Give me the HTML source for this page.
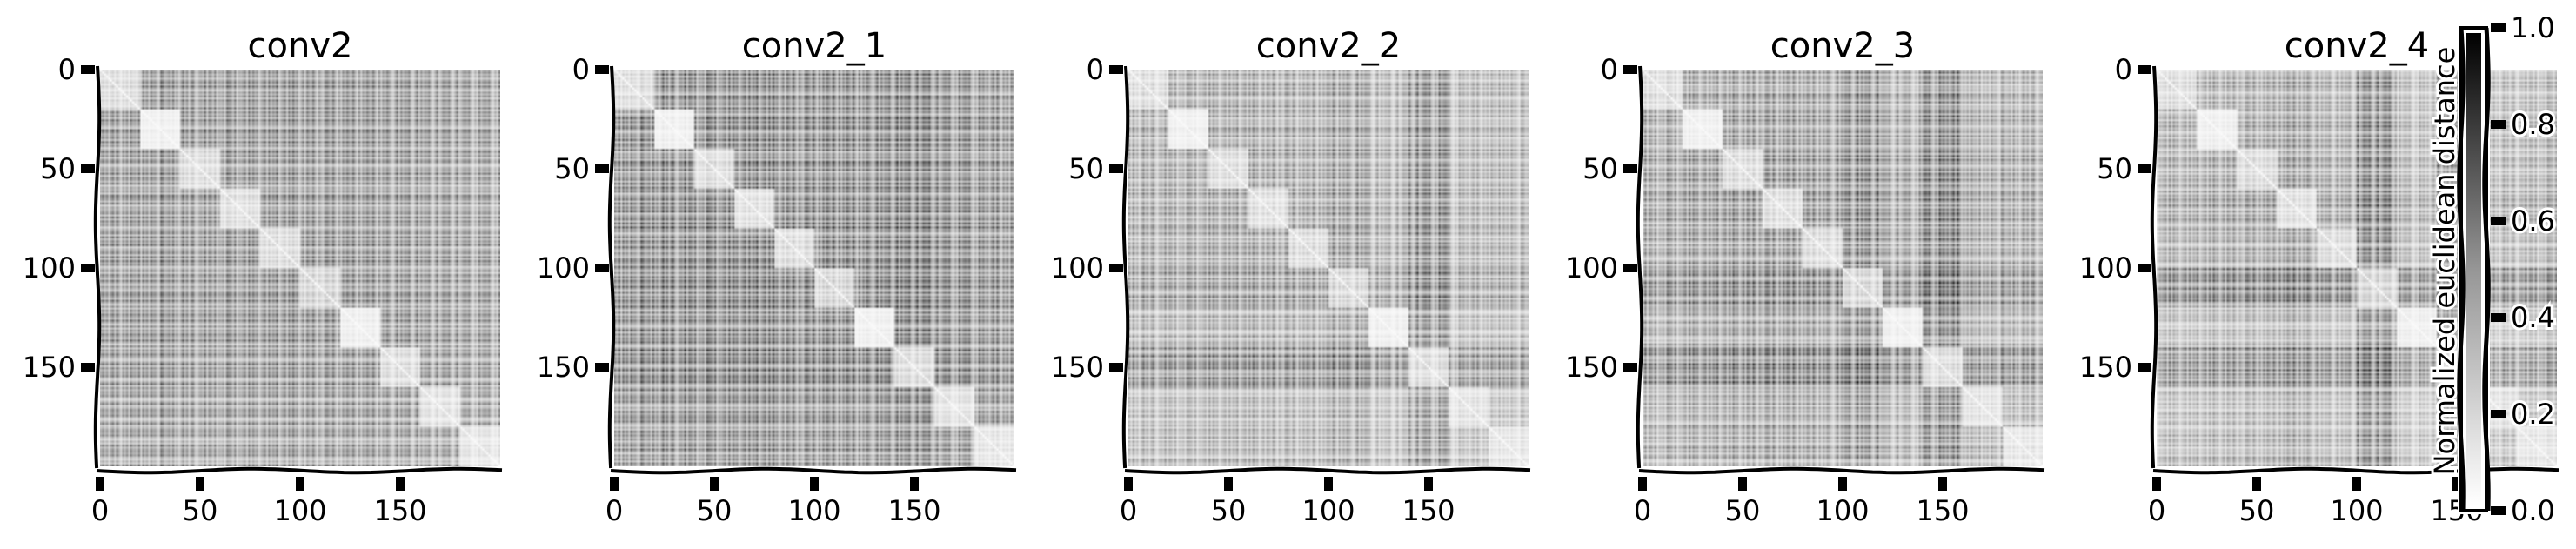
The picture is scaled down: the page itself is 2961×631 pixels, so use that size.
<!DOCTYPE html>
<html><head><meta charset="utf-8"><style>
html,body{margin:0;padding:0;background:#fff;}
#root{position:relative;width:2961px;height:631px;overflow:hidden;background:#fff;font-family:"DejaVu Sans","Liberation Sans",sans-serif;}
canvas{position:absolute;}
svg{position:absolute;left:0;top:0;}
</style></head><body>
<div id="root">
<svg id="ov" width="2961" height="631"></svg>
</div>
<script>
const panelTitles = ["conv2","conv2_1","conv2_2","conv2_3","conv2_4"];
const xTicks = [0,50,100,150];
const yTicks = [0,50,100,150];
const cbTicks = [0.0,0.2,0.4,0.6,0.8,1.0];
const cbTickLabels = ["0.0","0.2","0.4","0.6","0.8","1.0"];
const blockDark1 = [0.30,0.34,0.30,0.30,0.32,0.30,0.30,0.30,0.26,0.24];
const blockDark2 = [0.34,0.36,0.34,0.38,0.34,0.36,0.34,0.38,0.30,0.28];
const blockDark3 = [0.24,0.24,0.26,0.26,0.24,0.32,0.18,0.40,0.16,0.18];
const blockDark4 = [0.24,0.28,0.30,0.30,0.28,0.40,0.22,0.44,0.20,0.22];
const blockDark5 = [0.22,0.24,0.24,0.30,0.22,0.44,0.14,0.40,0.15,0.18];
const diagLight = [0.10,0.04,0.10,0.09,0.10,0.12,0.04,0.10,0.08,0.07];
const texture = "4736158294063718452907361845209734618250493716820453917628043519762804357192846035718264903571829460371852940631785294061738529407163852940716385204917365820491736582049137658204913675820419367582041936758";

const root=document.getElementById('root');
const ov=document.getElementById('ov');
const NS="http://www.w3.org/2000/svg";
const blocks=[blockDark1,blockDark2,blockDark3,blockDark4,blockDark5];
const W=460,H=456,TOP=80,LEFT0=115,STEP=591,N=200;
const FONT='DejaVu Sans, Liberation Sans, sans-serif';
function sx(v,L){return L+v/N*W;}
function sy(v){return TOP+v/N*H;}
function wave(x1,y1,x2,y2,horiz){
  let d="M"+x1+","+y1;const len=horiz?x2-x1:y2-y1;const n=Math.ceil(len/8);
  for(let k=1;k<=n;k++){const t=k/n;const off=2.2*Math.sin(t*len/38);
    if(horiz)d+=" L"+(x1+t*len).toFixed(1)+","+(y1+off).toFixed(1);
    else d+=" L"+(x1+off).toFixed(1)+","+(y1+t*len).toFixed(1);}
  return d;}
function mk(tag,attrs,parent){const e=document.createElementNS(NS,tag);for(const k in attrs)e.setAttribute(k,attrs[k]);(parent||ov).appendChild(e);return e;}
function txt(x,y,s,size,anchor,parent){const t=mk('text',{x:x,y:y,'font-size':size,'text-anchor':anchor,fill:'#000','font-family':FONT},parent);t.textContent=s;return t;}
function f(t){return 0.5+0.11*t;}

panelTitles.forEach((title,p)=>{
  const L=LEFT0+p*STEP;
  const cv=document.createElement('canvas');
  cv.width=N;cv.height=N;cv.style.left=L+'px';cv.style.top=TOP+'px';cv.style.width=W+'px';cv.style.height=H+'px';
  
  
  root.insertBefore(cv,ov);
  const ctx=cv.getContext('2d');const img=ctx.createImageData(N,N);const bd=blocks[p];
  for(let i=0;i<N;i++)for(let j=0;j<N;j++){
    const bi=Math.floor(i/20),bj=Math.floor(j/20);
    const ti=+texture[(i+p*17)%N],tj=+texture[(j+p*17)%N];
    let v;
    if(i===j)v=0;
    else if(bi===bj)v=diagLight[bi]*f(ti)*f(tj);
    else{const base=(bd[bi]+bd[bj])/2;v=base*f(ti)*f(tj);}
    v=Math.max(0,Math.min(1,v));
    const g=Math.round(255*(1-v)*0.97+4);
    const o=(i*N+j)*4;img.data[o]=g;img.data[o+1]=g;img.data[o+2]=g;img.data[o+3]=255;}
  ctx.putImageData(img,0,0);
  const g=mk('g',{});
  
  
  const t=txt(L+W/2,66,title,40,'middle',g);
  
  
  const ya=mk('path',{d:wave(L-3,TOP-4,L-3,TOP+H+2,false),stroke:'#000','stroke-width':4,fill:'none'},g);
  
  
  const xa=mk('path',{d:wave(L-4,TOP+H+5,L+W+2,TOP+H+5,true),stroke:'#000','stroke-width':4,fill:'none'},g);
  
  
  yTicks.forEach(v=>{const y=sy(v);
    const r=mk('rect',{x:L-22,y:y-5,width:16,height:10,fill:'#000'},g);
    
    
    const l=txt(L-28,y+11,String(v),32,'end',g);
    
    });
  xTicks.forEach(v=>{const x=sx(v,L);
    const r=mk('rect',{x:x-5,y:TOP+H+12,width:10,height:16,fill:'#000'},g);
    
    
    const l=txt(x,TOP+H+62,String(v),32,'middle',g);
    
    });
});
// colorbar
const cb=mk('g',{});


const defs=mk('defs',{},cb);
const lg=mk('linearGradient',{id:'gr',x1:0,y1:1,x2:0,y2:0},defs);
mk('stop',{offset:0,'stop-color':'#fff'},lg);mk('stop',{offset:0.5,'stop-color':'#969696'},lg);mk('stop',{offset:1,'stop-color':'#000'},lg);
const CT=32,CB=587,CX=2829,CW=29;
mk('rect',{x:CX-4,y:CT-4,width:CW+8,height:CB-CT+8,fill:'#fff'},cb);
mk('path',{d:wave(CX,CT,CX,CB,false)+" "+wave(CX+CW,CT,CX+CW,CB,false),stroke:'#000','stroke-width':5,fill:'none'},cb);
mk('rect',{x:CX,y:CT,width:CW,height:CB-CT,fill:'none',stroke:'#000','stroke-width':4},cb);
mk('rect',{x:CX+6,y:CT+6,width:CW-12,height:CB-CT-12,fill:'url(#gr)'},cb);
cbTicks.forEach((v,k)=>{const y=CB-v*(CB-CT);
  const r=mk('rect',{x:2863,y:y-5,width:17,height:10,fill:'#000'},cb);
  
  
  const l=txt(2886,y+11,cbTickLabels[k],32,'start',cb);
  l.setAttribute('stroke','#fff');l.setAttribute('stroke-width','6');l.setAttribute('paint-order','stroke');
  
  });
const cl=txt(0,0,"Normalized euclidean distance",32,'middle',cb);
cl.setAttribute('transform','translate(2821,300) rotate(-90)');
cl.setAttribute('stroke','#fff');cl.setAttribute('stroke-width','6');cl.setAttribute('paint-order','stroke');


</script>
</body></html>
